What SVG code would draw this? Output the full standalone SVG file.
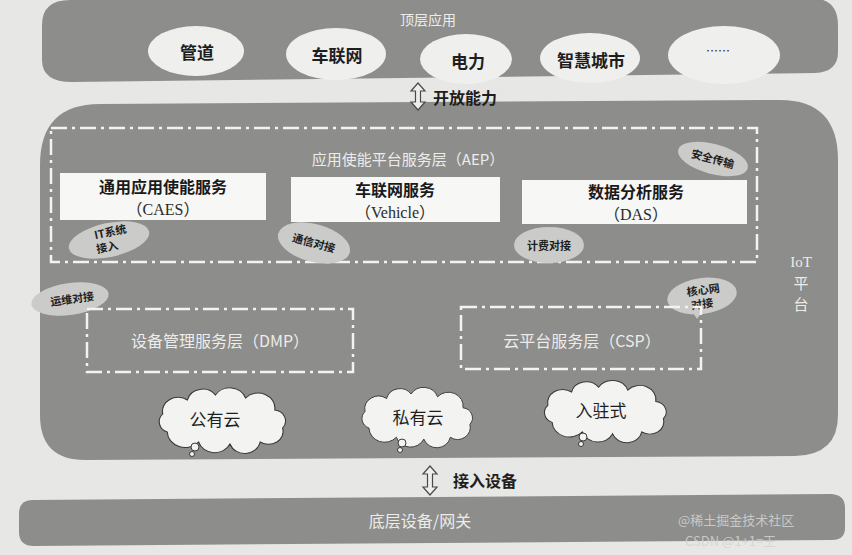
<svg xmlns="http://www.w3.org/2000/svg" width="852" height="555" viewBox="0 0 852 555">
<defs>
<style>
.band{fill:#8d8d8b}
.app{fill:#efefed}
.apptx{font-family:"Noto Sans CJK SC","Liberation Sans",sans-serif;font-weight:700;font-size:17px;fill:#1e1e1e;text-anchor:middle;dominant-baseline:central}
.wt{font-family:"Noto Sans CJK SC","Liberation Sans",sans-serif;font-size:14px;fill:#ececea;text-anchor:middle;dominant-baseline:central}
.dash{fill:none;stroke:#f3f3f1;stroke-width:2.5;stroke-dasharray:16 5 3 5}
.box{fill:#f7f7f5}
.bt{font-family:"Noto Sans CJK SC","Liberation Sans",sans-serif;font-weight:700;font-size:16px;fill:#1a1a1a;text-anchor:middle;dominant-baseline:central}
.bs{font-family:"Liberation Serif","Noto Sans CJK SC",serif;font-size:16px;fill:#2a2a2a;text-anchor:middle;dominant-baseline:central}
.tag{fill:#cbcbc9}
.tt{font-family:"Noto Sans CJK SC","Liberation Sans",sans-serif;font-weight:700;font-size:11px;fill:#1e1e1e;text-anchor:middle;dominant-baseline:central}
.cloud{fill:#f3f3f1;stroke:#3a3a3a;stroke-width:1}
.ct{font-family:"Noto Sans CJK SC","Liberation Sans",sans-serif;font-size:17px;fill:#1e1e1e;text-anchor:middle;dominant-baseline:central}
.arr{fill:#eeeeec;stroke:#4a4a4a;stroke-width:1.2}
.lbl{font-family:"Noto Sans CJK SC","Liberation Sans",sans-serif;font-weight:700;font-size:16px;fill:#1e1e1e;dominant-baseline:central}
.wm{font-family:"Noto Sans CJK SC","Liberation Sans",sans-serif;font-size:13px;fill:#d4d4d2;opacity:0.85}
</style>
<path id="cl" d="M-48,12 A11,11 0 0 1 -52,-6 A14,14 0 0 1 -30,-20 A14,14 0 0 1 -5,-25 A15,15 0 0 1 22,-22 A15,15 0 0 1 48,-10 A11,11 0 0 1 55,8 A13,13 0 0 1 35,22 A14,14 0 0 1 8,24 A15,15 0 0 1 -20,22 A16,16 0 0 1 -48,12 Z"/>
</defs>
<rect width="852" height="555" fill="#e7e7e5"/>

<g id="top-layer">
<path class="band" d="M70,0 L810,-2 Q838,-2 838,25 L838,52 Q838,72 815,73 L72,82 Q42,82 42,60 L42,25 Q42,0 70,0 Z"/>
<text class="wt" x="428" y="19">顶层应用</text>
</g>
<g id="app-pipe"><ellipse class="app" cx="196" cy="51" rx="48" ry="25"/><text class="apptx" x="197" y="51">管道</text></g>
<g id="app-vehicle"><ellipse class="app" cx="336" cy="54" rx="50" ry="26"/><text class="apptx" x="337" y="54">车联网</text></g>
<g id="app-power"><ellipse class="app" cx="466" cy="59" rx="46" ry="25"/><text class="apptx" x="468" y="60">电力</text></g>
<g id="app-city"><ellipse class="app" cx="590" cy="58" rx="50" ry="25"/><text class="apptx" x="591" y="59">智慧城市</text></g>
<g id="app-more"><ellipse class="app" cx="724" cy="55" rx="56" ry="29"/><text class="apptx" x="718" y="50" style="font-size:12px;font-weight:400">……</text></g>

<g id="iot-platform">
<path class="band" d="M100,104 L780,100 Q838,100 838,160 L838,415 Q838,455 795,456 L85,460 Q40,460 40,415 L40,165 Q40,104 100,104 Z"/>
<text class="wt" x="801" y="262" style="font-family:'Liberation Serif','Noto Sans CJK SC',serif;font-size:15px">IoT</text>
<text class="wt" x="801" y="282" style="font-size:15px">平</text>
<text class="wt" x="801" y="303" style="font-size:15px">台</text>
</g>

<g id="aep">
<rect class="dash" x="51" y="128" width="706" height="134"/>
<text class="wt" x="408" y="158" style="font-size:15px">应用使能平台服务层（AEP）</text>
</g>
<g id="caes"><rect class="box" x="60" y="173" width="206" height="47"/><text class="bt" x="163" y="186">通用应用使能服务</text><text class="bs" x="163" y="209">（CAES）</text></g>
<g id="vehicle"><rect class="box" x="291" y="177" width="209" height="45"/><text class="bt" x="395" y="189">车联网服务</text><text class="bs" x="395" y="212">（Vehicle）</text></g>
<g id="das"><rect class="box" x="522" y="180" width="225" height="44"/><text class="bt" x="636" y="191">数据分析服务</text><text class="bs" x="636" y="214">（DAS）</text></g>

<g id="tag-security"><ellipse class="tag" cx="713" cy="159" rx="36" ry="15" transform="rotate(15 713 159)"/><text class="tt" x="713" y="158" transform="rotate(15 713 158)">安全传输</text></g>
<g id="tag-it"><ellipse class="tag" cx="109" cy="240" rx="41" ry="17" transform="rotate(-12 109 240)"/><text class="tt" x="110" y="231" transform="rotate(-12 110 231)">IT系统</text><text class="tt" x="107" y="246" transform="rotate(-12 107 246)">接入</text></g>
<g id="tag-comm"><ellipse class="tag" cx="314" cy="243" rx="37" ry="19" transform="rotate(15 314 243)"/><text class="tt" x="314" y="242" transform="rotate(15 314 242)">通信对接</text></g>
<g id="tag-billing"><ellipse class="tag" cx="549" cy="245" rx="35" ry="18"/><text class="tt" x="549" y="245">计费对接</text></g>
<g id="tag-ops"><ellipse class="tag" cx="70" cy="299" rx="39" ry="16" transform="rotate(-8 70 299)"/><text class="tt" x="72" y="298" transform="rotate(-8 72 298)">运维对接</text></g>
<g id="tag-core"><ellipse class="tag" cx="702" cy="296" rx="35" ry="18" transform="rotate(-8 702 296)"/><path class="tag" d="M692,311 L697,319 L702,312 Z"/><text class="tt" x="703" y="289" transform="rotate(-8 703 289)">核心网</text><text class="tt" x="702" y="303" transform="rotate(-8 702 303)">对接</text></g>

<g id="dmp"><rect class="dash" x="87" y="309" width="266" height="63"/><text class="wt" x="220" y="340" style="font-size:16px">设备管理服务层（DMP）</text></g>
<g id="csp"><rect class="dash" x="461" y="307" width="240" height="62"/><text class="wt" x="582" y="340" style="font-size:16px">云平台服务层（CSP）</text></g>

<g id="cloud-public"><use href="#cl" class="cloud" transform="translate(221,420) scale(1.12,1)"/><circle class="cloud" cx="195" cy="447" r="4"/><circle class="cloud" cx="192" cy="454" r="2.5"/><text class="ct" x="215" y="418">公有云</text></g>
<g id="cloud-private"><use href="#cl" class="cloud" transform="translate(416,417) scale(0.98,0.92)"/><circle class="cloud" cx="402" cy="443" r="4"/><circle class="cloud" cx="400" cy="450" r="2.5"/><text class="ct" x="418" y="416">私有云</text></g>
<g id="cloud-settled"><use href="#cl" class="cloud" transform="translate(604,411) scale(1.08,0.95)"/><circle class="cloud" cx="583" cy="437" r="4"/><circle class="cloud" cx="581" cy="444" r="2.5"/><text class="ct" x="601" y="409">入驻式</text></g>

<g id="bottom-layer">
<path class="band" d="M32,500 L830,494 Q845,494 845,508 L845,528 Q845,540 832,540 L34,546 Q19,546 19,532 L19,514 Q19,500 32,500 Z"/>
<text class="wt" x="420" y="520" style="font-size:16px">底层设备/网关</text>
</g>

<g id="connectors">
<path class="arr" d="M418,83 L425,91 L420.5,91 L420.5,102 L425,102 L418,110 L411,102 L415.5,102 L415.5,91 L411,91 Z"/>
<text class="lbl" x="433" y="97">开放能力</text>
<path class="arr" d="M430,466 L437,474 L432.5,474 L432.5,487 L437,487 L430,495 L423,487 L427.5,487 L427.5,474 L423,474 Z"/>
<text class="lbl" x="453" y="480">接入设备</text>
</g>

<text class="wm" x="678" y="525">@稀土掘金技术社区</text>
<text class="wm" x="685" y="546">CSDN @1+1=王</text>
</svg>
